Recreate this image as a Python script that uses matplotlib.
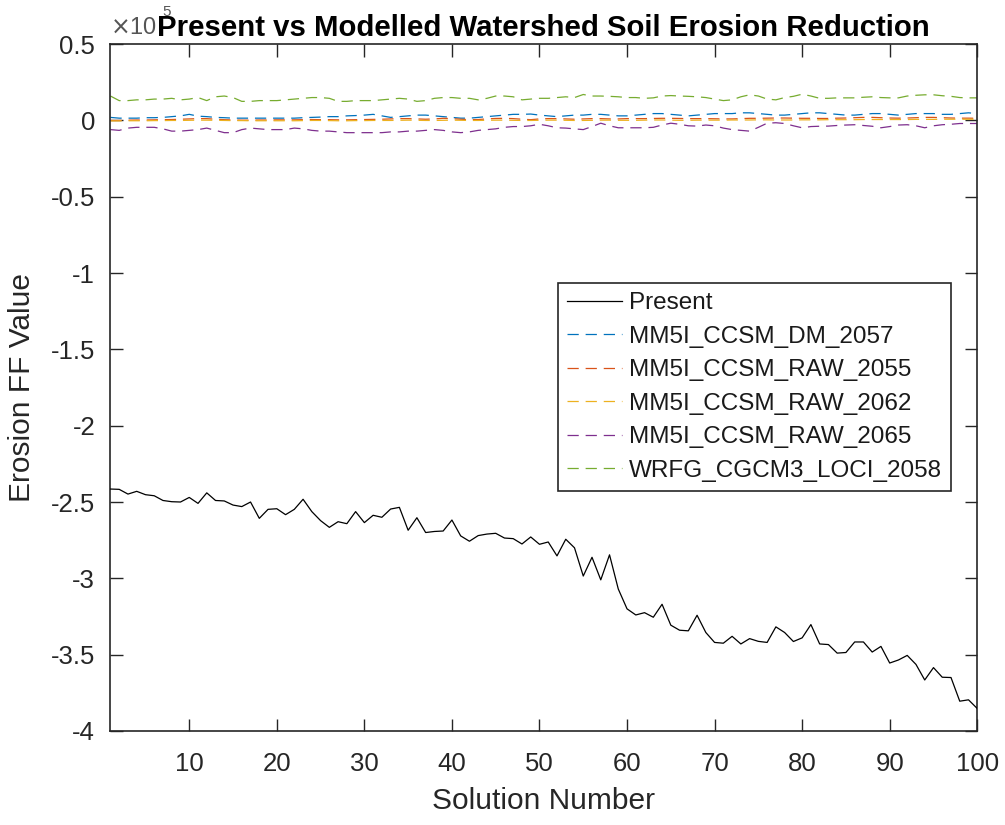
import numpy as np
import matplotlib
matplotlib.use("Agg")
import matplotlib.pyplot as plt

plt.rcParams['font.family'] = ['Liberation Sans', 'DejaVu Sans']

# Solution indices
solution = np.arange(1, 101)

# Erosion FF values (x 10^5)
present = [
    -2.415, -2.417, -2.448, -2.430, -2.452, -2.459, -2.490, -2.498, -2.500, -2.470,
    -2.509, -2.440, -2.490, -2.493, -2.520, -2.530, -2.500, -2.607, -2.548, -2.544,
    -2.583, -2.548, -2.482, -2.563, -2.622, -2.666, -2.629, -2.642, -2.563, -2.635,
    -2.587, -2.600, -2.546, -2.535, -2.685, -2.603, -2.700, -2.693, -2.690, -2.618,
    -2.722, -2.757, -2.720, -2.710, -2.705, -2.736, -2.740, -2.775, -2.729, -2.777,
    -2.762, -2.853, -2.744, -2.800, -2.985, -2.862, -3.010, -2.846, -3.070, -3.200,
    -3.240, -3.225, -3.255, -3.170, -3.307, -3.340, -3.344, -3.242, -3.355, -3.420,
    -3.425, -3.380, -3.430, -3.395, -3.413, -3.420, -3.318, -3.355, -3.414, -3.390,
    -3.303, -3.430, -3.434, -3.490, -3.486, -3.417, -3.417, -3.483, -3.446, -3.555,
    -3.535, -3.505, -3.564, -3.666, -3.585, -3.648, -3.650, -3.805, -3.796, -3.853,
]

dm_2057 = [
    0.020, 0.015, 0.015, 0.015, 0.018, 0.018, 0.020, 0.025, 0.030, 0.040,
    0.028, 0.025, 0.020, 0.018, 0.015, 0.015, 0.015, 0.015, 0.015, 0.015,
    0.015, 0.015, 0.018, 0.020, 0.022, 0.025, 0.025, 0.030, 0.032, 0.035,
    0.040, 0.030, 0.020, 0.025, 0.030, 0.035, 0.035, 0.030, 0.025, 0.020,
    0.015, 0.015, 0.020, 0.025, 0.030, 0.035, 0.040, 0.040, 0.042, 0.035,
    0.030, 0.025, 0.030, 0.035, 0.035, 0.040, 0.040, 0.035, 0.030, 0.030,
    0.035, 0.040, 0.045, 0.045, 0.040, 0.035, 0.030, 0.035, 0.040, 0.045,
    0.045, 0.045, 0.050, 0.050, 0.045, 0.040, 0.035, 0.035, 0.040, 0.045,
    0.050, 0.050, 0.045, 0.040, 0.035, 0.035, 0.040, 0.045, 0.045, 0.040,
    0.035, 0.040, 0.045, 0.045, 0.045, 0.040, 0.040, 0.045, 0.050, 0.045,
]

raw_2055 = [
    0.000, 0.000, 0.002, 0.003, 0.003, 0.004, 0.005, 0.006, 0.008, 0.010,
    0.012, 0.012, 0.008, 0.005, 0.003, 0.002, 0.002, 0.003, 0.003, 0.004,
    0.004, 0.004, 0.005, 0.006, 0.005, 0.005, 0.004, 0.004, 0.005, 0.006,
    0.007, 0.008, 0.010, 0.012, 0.012, 0.010, 0.008, 0.010, 0.014, 0.012,
    0.008, 0.005, 0.006, 0.010, 0.013, 0.014, 0.012, 0.008, 0.005, 0.010,
    0.012, 0.012, 0.010, 0.008, 0.010, 0.012, 0.012, 0.010, 0.010, 0.012,
    0.012, 0.012, 0.013, 0.014, 0.014, 0.013, 0.012, 0.012, 0.012, 0.011,
    0.010, 0.010, 0.012, 0.014, 0.014, 0.015, 0.016, 0.016, 0.015, 0.014,
    0.014, 0.013, 0.013, 0.015, 0.016, 0.018, 0.020, 0.020, 0.018, 0.016,
    0.015, 0.016, 0.018, 0.020, 0.020, 0.018, 0.016, 0.015, 0.015, 0.014,
]

raw_2062 = [
    -0.003, -0.003, -0.002, -0.002, -0.002, -0.001, -0.001, 0.000, 0.000, 0.001,
    0.002, 0.002, 0.001, 0.000, -0.001, -0.001, -0.002, -0.002, -0.002, -0.002,
    -0.002, -0.002, -0.001, 0.000, 0.000, -0.001, -0.002, -0.002, -0.001, -0.001,
    0.000, 0.000, 0.000, 0.001, 0.002, 0.001, 0.000, 0.000, 0.001, 0.002,
    0.001, 0.000, 0.000, 0.001, 0.002, 0.002, 0.001, 0.000, 0.000, 0.001,
    0.002, 0.002, 0.001, 0.000, 0.000, 0.001, 0.002, 0.002, 0.001, 0.001,
    0.001, 0.002, 0.003, 0.003, 0.002, 0.001, 0.001, 0.002, 0.002, 0.002,
    0.002, 0.003, 0.003, 0.003, 0.004, 0.004, 0.003, 0.003, 0.003, 0.004,
    0.004, 0.004, 0.005, 0.005, 0.005, 0.005, 0.006, 0.006, 0.006, 0.006,
    0.006, 0.006, 0.007, 0.007, 0.007, 0.008, 0.008, 0.008, 0.008, 0.008,
]

raw_2065 = [
    -0.060, -0.065, -0.050, -0.045, -0.045, -0.045, -0.055, -0.070, -0.070, -0.065,
    -0.060, -0.050, -0.065, -0.080, -0.080, -0.060, -0.050, -0.055, -0.060, -0.060,
    -0.060, -0.050, -0.055, -0.065, -0.070, -0.070, -0.075, -0.080, -0.080, -0.080,
    -0.080, -0.080, -0.075, -0.075, -0.070, -0.070, -0.065, -0.060, -0.065, -0.075,
    -0.080, -0.075, -0.065, -0.060, -0.055, -0.045, -0.040, -0.040, -0.035, -0.025,
    -0.035, -0.048, -0.050, -0.055, -0.060, -0.040, -0.018, -0.035, -0.048, -0.048,
    -0.048, -0.048, -0.045, -0.030, -0.018, -0.025, -0.035, -0.037, -0.030, -0.035,
    -0.050, -0.060, -0.065, -0.070, -0.045, -0.018, -0.015, -0.020, -0.035, -0.048,
    -0.040, -0.038, -0.037, -0.033, -0.030, -0.028, -0.033, -0.038, -0.048, -0.040,
    -0.030, -0.028, -0.035, -0.048, -0.035, -0.028, -0.025, -0.020, -0.020, -0.020,
]

loci_2058 = [
    0.160, 0.130, 0.130, 0.135, 0.135, 0.140, 0.140, 0.145, 0.135, 0.140,
    0.150, 0.130, 0.155, 0.160, 0.150, 0.125, 0.125, 0.130, 0.130, 0.130,
    0.135, 0.140, 0.145, 0.150, 0.150, 0.145, 0.125, 0.125, 0.130, 0.130,
    0.130, 0.135, 0.140, 0.145, 0.140, 0.125, 0.130, 0.145, 0.150, 0.150,
    0.145, 0.145, 0.135, 0.145, 0.160, 0.160, 0.155, 0.135, 0.140, 0.145,
    0.145, 0.150, 0.155, 0.150, 0.170, 0.160, 0.160, 0.158, 0.155, 0.150,
    0.150, 0.145, 0.148, 0.160, 0.163, 0.160, 0.158, 0.155, 0.150, 0.140,
    0.130, 0.135, 0.155, 0.168, 0.160, 0.140, 0.135, 0.150, 0.158, 0.172,
    0.160, 0.145, 0.145, 0.148, 0.148, 0.148, 0.152, 0.155, 0.150, 0.148,
    0.148, 0.160, 0.165, 0.168, 0.168, 0.162, 0.158, 0.150, 0.148, 0.148,
]

series_names = ["Present", "MM5I_CCSM_DM_2057", "MM5I_CCSM_RAW_2055",
                "MM5I_CCSM_RAW_2062", "MM5I_CCSM_RAW_2065", "WRFG_CGCM3_LOCI_2058"]
series_values = [present, dm_2057, raw_2055, raw_2062, raw_2065, loci_2058]
series_colors = ["#000000", "#0072BD", "#D95319", "#EDB120", "#7E2F8E", "#77AC30"]

x_ticks = list(range(10, 101, 10))
y_ticks = [0.5, 0, -0.5, -1, -1.5, -2, -2.5, -3, -3.5, -4]
y_tick_labels = ["0.5", "0", "-0.5", "-1", "-1.5", "-2", "-2.5", "-3", "-3.5", "-4"]

axis_gray = "#262626"

fig = plt.figure(figsize=(10.05, 8.25), dpi=100)
ax = fig.add_axes([0.1099, 0.114, 0.8625, 0.8325])

for name, vals, col in zip(series_names, series_values, series_colors):
    if name == "Present":
        ax.plot(solution, vals, color=col, lw=0.9, label=name, zorder=3)
    else:
        ax.plot(solution, vals, color=col, lw=0.9, ls=(0, (9, 5.5)), label=name,
                zorder=2)

ax.set_xlim(1, 100)
ax.set_ylim(-4, 0.5)
ax.set_xticks(x_ticks)
ax.set_yticks(y_ticks)
ax.set_yticklabels(y_tick_labels)

ax.tick_params(direction="in", length=9, width=1.0, colors=axis_gray,
               labelsize=18.5, top=True, right=True)
ax.tick_params(axis="x", pad=15)
ax.tick_params(axis="y", pad=11)
for sp in ax.spines.values():
    sp.set_color(axis_gray)
    sp.set_linewidth(1.2)

# Scale factor shown above the y axis (exponent sits behind the title)
ax.text(0.0, 1.008, r"$\times$10", transform=ax.transAxes, fontsize=17,
        color="#555555", ha="left", va="bottom", zorder=1)
ax.text(0.0595, 1.036, "5", transform=ax.transAxes, fontsize=11,
        color="#555555", ha="left", va="bottom", zorder=1)

ax.set_title("Present vs Modelled Watershed Soil Erosion Reduction",
             fontsize=21.2, fontweight="bold", color="black", pad=6, zorder=5)
ax.set_xlabel("Solution Number", fontsize=21.5, color=axis_gray, labelpad=8)
ax.set_ylabel("Erosion FF Value", fontsize=21.5, color=axis_gray, labelpad=11)

leg = ax.legend(loc="upper left", bbox_to_anchor=(0.516, 0.652), fontsize=17.5,
                frameon=True, fancybox=False, framealpha=1, edgecolor=axis_gray,
                handlelength=2.26, handletextpad=0.3, labelspacing=0.47,
                borderpad=0.38, borderaxespad=0)
leg.get_frame().set_linewidth(1.2)
for t in leg.get_texts():
    t.set_color("#1a1a1a")

fig.savefig("out.png", dpi=100, facecolor="white")
